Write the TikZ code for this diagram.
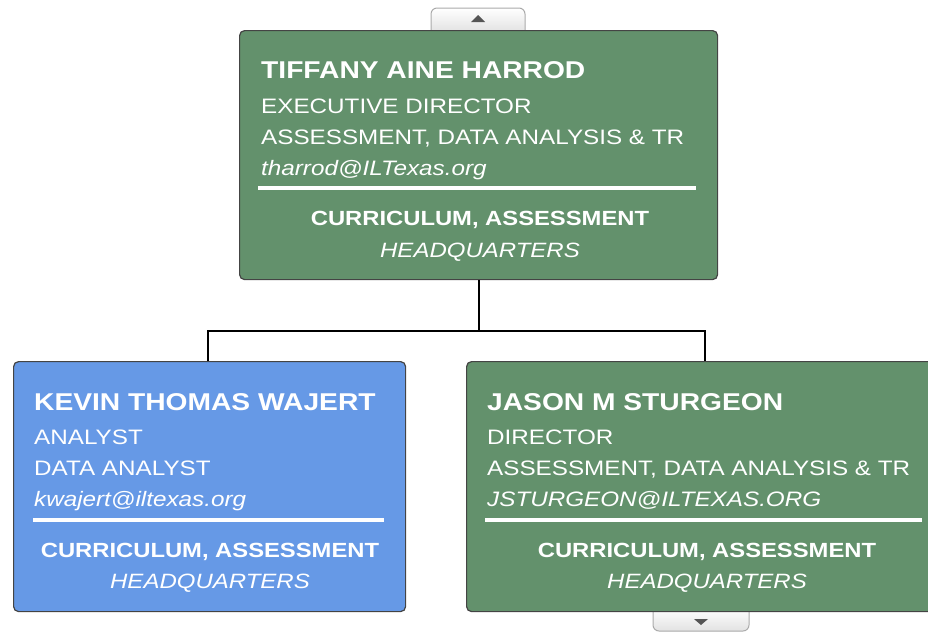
\documentclass[tikz,border=0pt]{standalone}
\usepackage{fontspec}
\setmainfont{Liberation Sans}[FakeStretch=1.16]
\definecolor{boxgreen}{HTML}{63916C}
\definecolor{boxblue}{HTML}{6699E6}
\definecolor{boxline}{HTML}{444444}
\definecolor{tabfill}{HTML}{E2E2E2}
\definecolor{tabline}{HTML}{AAAAAA}
\definecolor{tabarrow}{HTML}{555555}
\tikzset{
  card/.style={draw=boxline, line width=1.2pt, rounded corners=5pt, inner sep=0pt},
  nametext/.style={anchor=base west, inner sep=0pt, text=white, font=\fontsize{24.3}{28}\selectfont\bfseries},
  bodytext/.style={anchor=base west, inner sep=0pt, text=white, font=\fontsize{20.9}{25}\selectfont},
  mailtext/.style={anchor=base west, inner sep=0pt, text=white, font=\fontsize{20.9}{25}\selectfont\itshape},
  foottext/.style={anchor=base, inner sep=0pt, text=white, font=\fontsize{20.5}{25}\selectfont\bfseries},
  hqtext/.style={anchor=base, inner sep=0pt, text=white, font=\fontsize{20.7}{25}\selectfont\itshape},
  sepline/.style={white, line width=4pt},
  link/.style={black, line width=1.8pt},
  tab/.style={draw=tabline, line width=1pt, top color=white, bottom color=tabfill},
}
\begin{document}
\begin{tikzpicture}[x=1pt,y=-1pt]
\useasboundingbox (0,0) rectangle (928,633);
% tabs
\draw[tab, rounded corners=6pt] (431,32) -- (431,8) -- (525,8) -- (525,32);
\fill[tabarrow] (471,22) -- (485,22) -- (478,15) -- cycle;
\draw[tab, rounded corners=6pt] (653,608) -- (653,631) -- (749,631) -- (749,608);
\fill[tabarrow] (694,619) -- (708,619) -- (701,625) -- cycle;
% boxes
\node[card, fill=boxgreen, minimum width=478pt, minimum height=249pt, anchor=north west] (top) at (239,30) {};
\node[card, fill=boxblue, minimum width=392pt, minimum height=250pt, anchor=north west] (left) at (13,361) {};
\node[card, fill=boxgreen, minimum width=480pt, minimum height=250pt, anchor=north west] (right) at (466,361) {};
% connectors
\coordinate (mid) at (top.south |- 0,331);
\draw[link] (top.south) -- (mid);
\draw[link] (left.north -| 208,0) |- (mid) -| (right.north -| 705,0);
% top texts
\node[nametext] (tn) at (261,78) {TIFFANY AINE HARROD};
\node[bodytext] (tt) at (261,113) {EXECUTIVE DIRECTOR};
\node[bodytext] (td) at (261,144) {ASSESSMENT, DATA ANALYSIS \& TR};
\node[mailtext] (tm) at (261,175) {tharrod@ILTexas.org};
\draw[sepline] (258,188) -- (696,188);
\node[foottext] (tf) at (480,225) {CURRICULUM, ASSESSMENT};
\node[hqtext] (th) at (480,257) {HEADQUARTERS};
% left texts
\node[nametext] (ln) at (34,410) {KEVIN THOMAS WAJERT};
\node[bodytext] (lt) at (34,444) {ANALYST};
\node[bodytext] (ld) at (34,475) {DATA ANALYST};
\node[mailtext] (lm) at (34,506) {kwajert@iltexas.org};
\draw[sepline] (33,520) -- (384,520);
\node[foottext] (lf) at (210,557) {CURRICULUM, ASSESSMENT};
\node[hqtext] (lh) at (210,588) {HEADQUARTERS};
% right texts
\node[nametext] (rn) at (487,410) {JASON M STURGEON};
\node[bodytext] (rt) at (487,444) {DIRECTOR};
\node[bodytext] (rd) at (487,475) {ASSESSMENT, DATA ANALYSIS \& TR};
\node[mailtext] (rm) at (487,506) {JSTURGEON@ILTEXAS.ORG};
\draw[sepline] (485,520) -- (922,520);
\node[foottext] (rf) at (707,557) {CURRICULUM, ASSESSMENT};
\node[hqtext] (rh) at (707,588) {HEADQUARTERS};
\end{tikzpicture}
\end{document}
